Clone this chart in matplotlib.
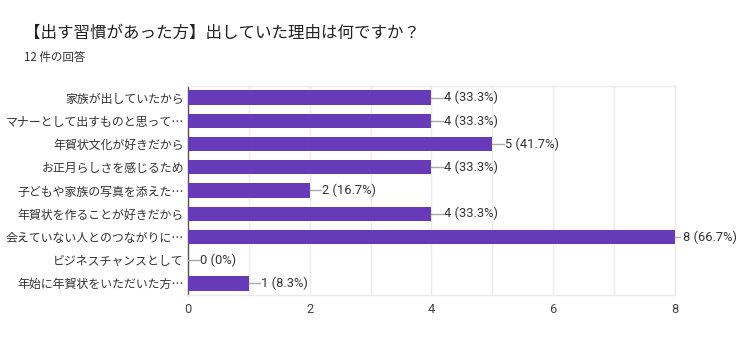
import matplotlib
matplotlib.use("Agg")
import matplotlib.pyplot as plt

plt.rcParams['font.family'] = ['Noto Sans CJK JP', 'DejaVu Sans']

title = "【出す習慣があった方】出していた理由は何ですか？"
subtitle = "12 件の回答"
categories = [
    "家族が出していたから",
    "マナーとして出すものと思って…",
    "年賀状文化が好きだから",
    "お正月らしさを感じるため",
    "子どもや家族の写真を添えた…",
    "年賀状を作ることが好きだから",
    "会えていない人とのつながりに…",
    "ビジネスチャンスとして",
    "年始に年賀状をいただいた方…",
]
counts = [4, 4, 5, 4, 2, 4, 8, 0, 1]
percents = ["33.3%", "33.3%", "41.7%", "33.3%", "16.7%", "33.3%", "66.7%", "0%", "8.3%"]
xticks = [0, 2, 4, 6, 8]

bar_color = "#673ab7"
text_color = "#333333"

fig = plt.figure(figsize=(7.5, 3.56), dpi=100)
ax = fig.add_axes([188/750, 1 - 295/356, (675-188)/750, (295-86)/356])

y = list(range(len(categories)))
ax.barh(y, counts, height=0.62, color=bar_color, zorder=3)
ax.set_ylim(len(categories) - 0.5, -0.5)
ax.set_xlim(0, 8)

for yi, c, p in zip(y, counts, percents):
    if c < 8:
        ax.plot([c, c + 0.19], [yi, yi], color="#aaaaaa", lw=1, zorder=4, clip_on=False)
        ax.text(c + 0.2, yi, f"{c} ({p})", va="center", ha="left", fontsize=9.3,
                color=text_color, family=['Roboto', 'DejaVu Sans'])
    else:
        ax.plot([c, c + 0.08], [yi, yi], color="#aaaaaa", lw=1, zorder=4, clip_on=False)
        ax.text(c + 0.13, yi, f"{c} ({p})", va="center", ha="left", fontsize=9.3,
                color=text_color, family=['Roboto', 'DejaVu Sans'], clip_on=False)

ax.set_yticks(y)
ax.set_yticklabels(categories, fontsize=8.6, color=text_color)
ax.set_xticks(xticks)
ax.set_xticklabels([str(t) for t in xticks], fontsize=9.3, color="#444444",
                   family=['Roboto', 'DejaVu Sans'])
ax.set_xticks(range(0, 9), minor=True)
ax.grid(axis='x', which='both', color="#ebebeb", lw=1, zorder=0)
ax.tick_params(axis='both', which='both', length=0)
ax.tick_params(axis='y', pad=3)
ax.tick_params(axis='x', pad=6)

for s in ['top', 'right', 'bottom']:
    ax.spines[s].set_color("#ebebeb")
    ax.spines[s].set_linewidth(1)
ax.spines['left'].set_color("#555555")
ax.spines['left'].set_linewidth(1)

fig.text(24/750, 1 - 33/356, title, fontsize=11.9, color="#212121", va="center", ha="left")
fig.text(24/750, 1 - 57/356, subtitle, fontsize=8.3, color="#333333", va="center", ha="left")

fig.savefig("out.png", dpi=100)
